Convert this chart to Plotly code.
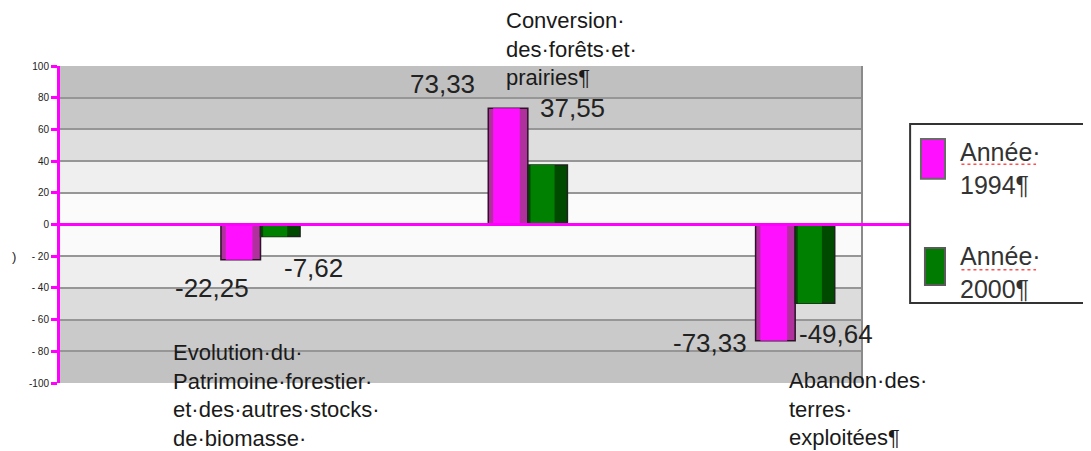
import plotly.graph_objects as go

# categories (x positions 0, 1, 2)
categories = [
    "Evolution·du·<br>Patrimoine·forestier·<br>et·des·autres·stocks·<br>de·biomasse·",
    "Conversion·<br>des·forêts·et·<br>prairies¶",
    "Abandon·des·<br>terres·<br>exploitées¶",
]
series_names = ["Année·<br>1994¶", "Année·<br>2000¶"]
values_1994 = [-22.25, 73.33, -73.33]
values_2000 = [-7.62, 37.55, -49.64]
tick_vals = [100, 80, 60, 40, 20, 0, -20, -40, -60, -80, -100]
tick_text = ["100", "80", "60", "40", "20", "0", "- 20", "- 40", "- 60", "- 80", "-100"]

x_idx = list(range(len(categories)))
W = 0.148
FONT = "Liberation Sans, Arial, sans-serif"

fig = go.Figure()

# 1994 bars: darker body + bright centre strip
fig.add_trace(go.Bar(x=x_idx, y=values_1994, width=W, offset=-W,
                     marker=dict(color="#b0309e", line=dict(color="#2a1426", width=1.5)),
                     showlegend=False, hoverinfo="skip"))
fig.add_trace(go.Bar(x=x_idx, y=values_1994, width=0.1, offset=-0.13,
                     marker=dict(color="#ff10ff", line=dict(width=0)),
                     showlegend=False, hoverinfo="skip"))
# 2000 bars
fig.add_trace(go.Bar(x=x_idx, y=values_2000, width=W, offset=0,
                     marker=dict(color="#004a00", line=dict(color="#1c261c", width=1.5)),
                     showlegend=False, hoverinfo="skip"))
fig.add_trace(go.Bar(x=x_idx, y=values_2000, width=0.09, offset=0.01,
                     marker=dict(color="#008000", line=dict(width=0)),
                     showlegend=False, hoverinfo="skip"))

# background bands (grey gradient, lighter near zero)
band_colors = ["#c0c0c0", "#c8c8c8", "#dedede", "#efefef", "#fbfbfb",
               "#fafafa", "#eeeeee", "#dcdcdc", "#cacaca", "#c2c2c2"]
shapes = []
for i, c in enumerate(band_colors):
    top = 100 - 20 * i
    shapes.append(dict(type="rect", xref="paper", yref="y", x0=0, x1=1, y0=top - 20, y1=top,
                       fillcolor=c, line=dict(width=0), layer="below"))
# right border of plot area
shapes.append(dict(type="line", xref="paper", yref="y", x0=1, x1=1, y0=-100, y1=100,
                   line=dict(color="#8a8a8a", width=2)))
# zero line extending to legend box
shapes.append(dict(type="line", xref="paper", yref="y", x0=0, x1=1.06, y0=0, y1=0,
                   line=dict(color="#ff00ff", width=3)))

# legend box (open on the right, it runs off the edge) + swatches
shapes.append(dict(type="rect", xref="paper", yref="paper", x0=1.06, x1=1.4, y0=0.252, y1=0.817,
                   fillcolor="white", line=dict(width=0)))
shapes.append(dict(type="path", xref="paper", yref="paper",
                   path="M 1.4,0.817 L 1.06,0.817 L 1.06,0.252 L 1.4,0.252",
                   line=dict(color="#333333", width=2)))
shapes.append(dict(type="rect", xref="paper", yref="paper", x0=1.0735, x1=1.1035, y0=0.644, y1=0.77,
                   fillcolor="#ff10ff", line=dict(color="#6a6a6a", width=2)))
shapes.append(dict(type="rect", xref="paper", yref="paper", x0=1.0785, x1=1.1035, y0=0.309, y1=0.426,
                   fillcolor="#007a00", line=dict(color="#5a5a5a", width=2)))
# spell-check squiggles under "Année"
for yy in [0.69, 0.357]:
    shapes.append(dict(type="line", xref="paper", yref="paper", x0=1.124, x1=1.217, y0=yy, y1=yy,
                       line=dict(color="#ff5050", width=1.5, dash="dot")))

annotations = []
# value labels (pixel shifts from the bar end, per category then series)
label_shift = [[(-29, -28), (33, -31)], [(-66, 24), (25, 57)], [(-65, -2), (21, -31)]]
for i in x_idx:
    for j, (vals, off) in enumerate([(values_1994, -W / 2), (values_2000, W / 2)]):
        dx, dy = label_shift[i][j]
        annotations.append(dict(x=i + off, y=vals[i], xref="x", yref="y",
                                text=f"{vals[i]:.2f}".replace(".", ","), showarrow=False,
                                xshift=dx, yshift=dy, font=dict(family=FONT, size=26, color="#222222")))

# category labels
cat_pos = [(0.138, 0.142), (0.553, 1.19), (0.906, 0.053)]
for txt, (px, py) in zip(categories, cat_pos):
    annotations.append(dict(x=px, y=py, xref="paper", yref="paper", text=txt, showarrow=False,
                            xanchor="left", yanchor="top", align="left",
                            font=dict(family=FONT, size=22, color="#1a1a1a")))

# legend texts
for txt, py in zip(series_names, [0.78, 0.45]):
    annotations.append(dict(x=1.12, y=py, xref="paper", yref="paper", text=txt, showarrow=False,
                            xanchor="left", yanchor="top", align="left",
                            font=dict(family=FONT, size=25, color="#333333")))

# stray character from clipped axis title
annotations.append(dict(x=-0.062, y=-20, xref="paper", yref="y", text=")", showarrow=False,
                        font=dict(family=FONT, size=13, color="#222222")))

# page body adds an 8px offset, so the figure is shrunk and shifted to compensate
fig.update_layout(
    width=1083, height=443,
    margin=dict(l=52, r=229, t=58, b=68),
    barmode="overlay",
    paper_bgcolor="white",
    plot_bgcolor="white",
    showlegend=False,
    shapes=shapes,
    annotations=annotations,
    xaxis=dict(range=[-0.75, 2.25], showticklabels=False, showgrid=False, zeroline=False,
               showline=False, ticks=""),
    yaxis=dict(range=[-100, 100], tickvals=tick_vals, ticktext=tick_text,
               tickfont=dict(family=FONT, size=10, color="#222222"),
               showgrid=True, gridcolor="#969696", gridwidth=2, zeroline=False,
               showline=True, linecolor="#ff00ff", linewidth=3,
               ticks="outside", tickcolor="#ff00ff", tickwidth=3, ticklen=6),
)

fig.write_html("out.html")
